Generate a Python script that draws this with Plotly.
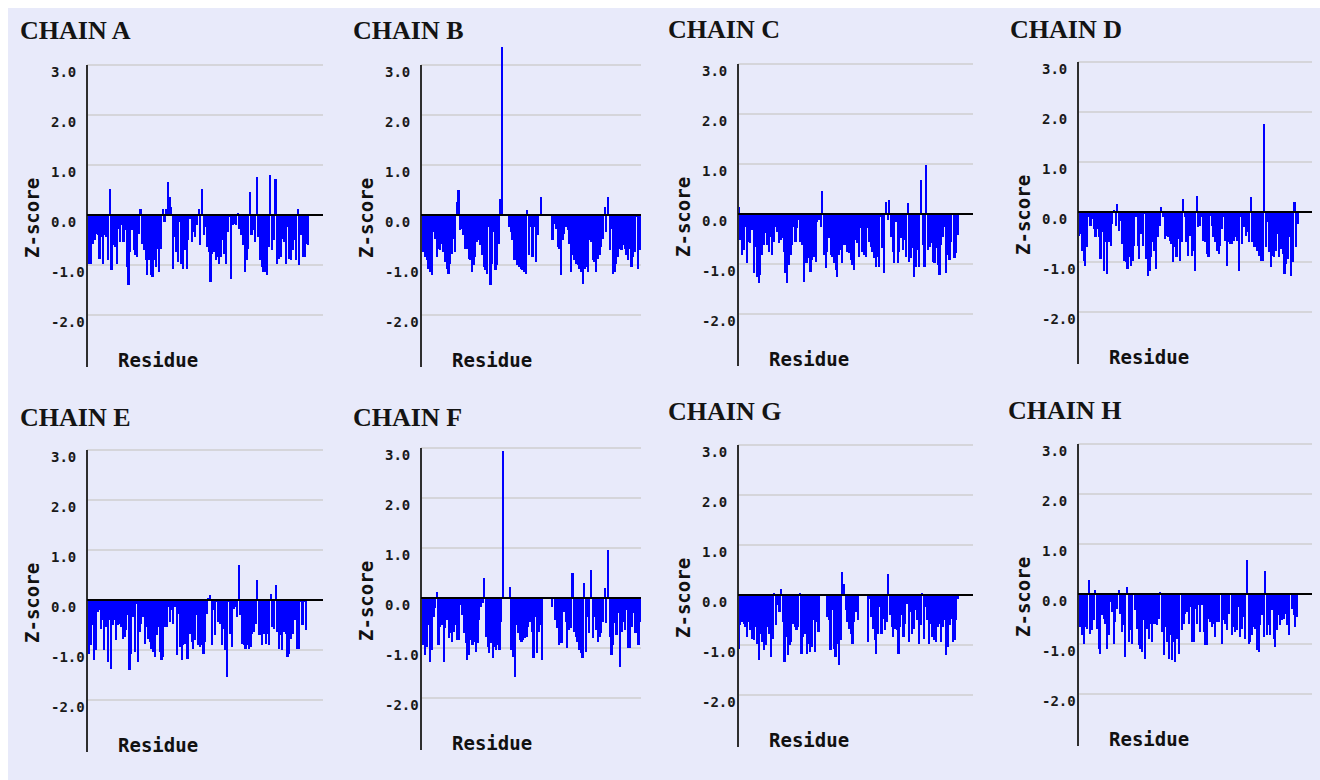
import plotly.graph_objects as go

# The page body keeps its default 8px margin, so the figure starts at (8, 8).
OFF = 8
W, H = 1320 - OFF, 780 - 2 * OFF

# ---------------- data (Z-score per residue) ----------------
chain_a = [-0.37, -0.98, -0.97, -0.57, -0.5, -0.37, -0.4, -0.87, -0.43, -0.97, -0.4, -0.43, -0.9, 0.53,
           -1.1, -0.6, -0.63, -0.97, -0.27, -0.53, -0.2, -0.53, -0.3, -1.03, -1.4, -0.73, -0.3, -0.7,
           -0.8, -0.83, -0.37, 0.13, -0.57, -0.7, -0.9, -1.2, -0.9, -1.2, -1.23, -0.9, -1.03, -0.67,
           -1.13, -0.67, 0.13, -0.13, 0.13, 0.67, 0.37, 0.17, -1.07, -0.43, -0.73, -0.93, -0.13, -0.97,
           -1.07, -0.7, -1.07, -0.5, -0.07, -0.53, -0.33, -0.43, -0.2, 0.13, -0.6, 0.53, -0.4, -0.23,
           -0.63, -0.73, -1.33, -0.77, -0.73, -0.9, -0.83, -0.97, -0.83, -0.5, -0.77, -0.97, -0.33,
           -0.03, -1.27, -0.2, -0.17, -0.2, 0.03, -0.27, -0.4, -0.6, -1.13, -0.9, -0.67, 0.47, -0.4,
           -0.3, -0.53, 0.77, -0.43, -0.9, -1.03, -1.13, -1.13, -1.2, -0.63, 0.8, -0.7, -0.5, 0.73,
           -0.97, -0.87, -0.83, -0.47, -0.53, -0.97, -0.23, -0.87, -0.9, -0.7, -0.5, -0.9, 0.13, -1.0,
           -0.4, -0.83, -0.83, -0.57, -0.6]

chain_b = [-0.13, -0.73, -0.83, -0.9, -1.07, -1.13, -1.2, -0.33, -0.47, -0.83, -0.67, -0.7, -0.57,
           -0.73, -0.93, -1.07, -1.17, -0.97, -0.77, -0.47, -0.73, 0.27, 0.5, -0.3, -0.27, -0.4, -0.67,
           -0.67, -0.87, -0.9, -1.13, -1.0, -0.83, -0.53, -0.5, -0.6, -0.8, -1.03, -1.1, -1.17, -0.23,
           -1.4, -0.97, -0.33, -1.1, -1.0, -0.57, 0.33, 3.36, None, None, None, -0.23, -0.33, -0.5,
           -0.9, -0.9, -1.0, -1.03, -1.07, -1.1, -1.13, -1.17, 0.1, -0.8, -0.23, -0.83, -0.23, -0.93,
           -0.4, None, 0.37, None, None, None, None, None, None, -0.5, -0.17, -0.27, -0.63, -0.67, -1.2,
           -0.5, -0.37, -0.23, -0.3, -0.57, -1.13, -0.8, -0.9, -0.97, -1.0, -1.07, -1.13, -1.37, -1.07,
           -1.03, -1.13, -0.5, -0.53, -0.9, -0.93, -1.13, -0.87, -0.8, -0.63, -0.47, 0.17, -0.33, 0.37,
           -0.7, -0.27, -1.17, -1.13, -0.97, -0.83, -0.67, -0.7, -0.6, -0.67, -0.8, -0.9, -0.67, -1.03,
           -0.83, -0.73, -0.03, -1.07, -0.7]

chain_c = [0.15, -0.51, -0.81, -0.71, -0.25, -0.98, -0.55, -0.58, -0.31, -1.18, -0.65, -1.25, -1.38,
           -1.21, -0.81, -0.61, -0.38, -0.61, -0.75, -0.45, -0.81, -0.55, -0.25, -0.35, -0.58, -0.51,
           -0.48, -0.75, -1.18, -1.38, -1.01, -0.81, -0.61, -0.25, -0.55, -0.28, -0.11, -0.55, -0.61,
           -1.35, -0.98, -0.98, -0.88, -1.15, -0.91, -0.85, -0.95, -0.15, -0.11, -0.25, 0.47, -0.81,
           -1.08, -0.75, -0.48, -0.81, -0.85, -0.98, -1.11, -1.25, -0.81, -0.71, -0.98, -0.61, -0.61,
           -0.75, -0.78, -0.91, -1.01, -1.11, -0.51, -0.58, -0.85, -0.28, -0.75, -0.81, -0.85, -0.28,
           -0.55, -0.65, -0.75, -0.88, -1.05, -0.85, -1.05, -0.05, -0.68, -1.18, 0.25, -0.11, 0.29,
           -0.45, -0.75, -0.98, -0.15, -0.98, -0.75, -0.48, -0.71, -0.51, -0.85, 0.22, -0.95, -0.88,
           -0.68, -1.25, -1.05, -0.71, -1.05, 0.69, -0.61, -1.05, 0.99, -0.71, -0.65, -0.58, -0.95,
           -0.98, -0.68, -1.01, -1.21, -0.61, -0.45, -0.25, -1.18, -0.81, -0.91, -0.55, -0.01, -0.88,
           -0.78, -0.41]

chain_d = [-0.47, -0.43, -0.77, -0.97, -1.07, -0.7, -0.1, -0.27, -0.13, -0.33, -0.5, -0.33, -0.5,
           -0.93, -0.4, -1.17, -0.6, -1.23, -0.6, -0.67, -0.23, 0.03, -0.27, 0.17, -0.37, -0.17, -0.63,
           -0.97, -1.0, -1.13, -0.9, -1.07, -0.97, -0.67, -0.1, -0.67, -0.93, -0.43, -0.67, -0.03,
           -0.93, -1.27, -1.17, -0.9, -0.6, -0.77, -1.13, -0.5, -0.27, 0.1, -0.1, -0.53, -0.47, -0.5,
           -0.57, -0.63, -1.0, -0.7, -0.9, -0.53, -0.97, -0.6, 0.27, -0.1, -0.6, -0.87, -0.47, -0.87,
           -0.77, -1.17, 0.33, -0.3, -0.27, -0.1, -0.57, -0.6, -0.83, -0.9, -0.07, -0.27, -0.5, -0.6,
           -0.77, -0.83, -0.67, -0.33, -0.1, -0.57, -1.07, -0.6, -0.63, -0.63, -0.57, -0.5, -0.57,
           -1.17, -0.1, -0.63, -0.3, -0.47, -0.4, -0.6, 0.3, -0.6, -0.7, -0.7, -0.77, -0.87, -0.97,
           -0.97, 1.77, -0.7, -0.2, -0.8, -1.1, -0.87, -0.9, -0.77, -0.43, -0.9, -0.73, -0.83, -1.23,
           -1.03, -0.93, -0.5, -1.27, -1.0, 0.2, -0.7, -0.23]

chain_e = [-0.63, -1.07, -0.9, -0.5, -1.2, -1.0, -0.23, -0.2, -0.57, -0.4, -1.0, -0.53, -1.23, -0.4,
           -1.37, -0.5, -0.4, -0.8, -0.5, -0.47, -0.53, -0.77, -0.73, -0.6, -0.3, -1.4, -1.07, -0.33,
           -1.03, -0.07, -1.23, -0.63, -0.47, -0.33, -0.87, -0.53, -0.77, -0.83, -0.97, -1.03, -1.13,
           -0.7, -0.53, -1.03, -1.2, -1.13, -0.53, -0.53, -0.13, -0.43, -0.2, -0.47, -0.13, -1.1,
           -0.27, -0.93, -1.2, -0.9, -0.87, -1.17, -1.17, -0.67, -0.83, -0.97, -0.8, -0.3, -0.9,
           -0.93, -0.9, -1.07, -0.83, -0.27, 0.03, 0.11, -0.9, -0.2, -0.7, -0.03, -0.43, -0.47, -0.9,
           -0.57, -1.0, -1.53, -0.03, -0.67, -0.93, -0.17, -0.13, -0.33, 0.7, -0.3, -0.87, -0.9,
           -0.97, -0.9, -0.97, -0.93, -0.67, -0.63, -0.47, 0.4, -0.7, -0.7, -0.9, -0.67, -0.87, -0.67,
           -0.9, 0.13, -0.53, -0.57, 0.3, -0.63, -0.97, -0.7, -1.0, -0.63, -0.67, -1.13, -1.07, -0.77,
           -0.67, -0.4, -0.4, -0.97, -0.97, -0.03, -0.5, -0.03, -0.6]

chain_f = [-0.6, -0.93, -1.13, -0.97, -0.53, -1.27, -1.03, -0.37, -0.2, 0.13, -0.93, -0.57, -0.53,
           -1.27, -0.6, -0.43, -0.8, -0.7, -0.87, -0.67, -0.53, -0.83, -0.83, -0.13, -0.33, -0.7, -0.9,
           -1.23, -1.13, -0.83, -0.93, -0.87, -1.07, -0.9, -0.43, -0.17, -0.1, 0.4, -0.77, -0.97, -1.1,
           -0.9, -1.2, -0.97, -1.03, -0.93, -1.03, -0.47, 2.95, None, None, None, 0.23, -1.03, -1.17,
           -1.57, -0.53, -0.7, -0.83, -0.87, -0.83, -0.8, -0.77, -0.57, -0.47, -0.67, -1.2, -0.37,
           -1.1, -0.67, -0.53, -1.23, None, None, None, None, None, -0.17, None, -0.43, -0.6, -0.93,
           -0.9, -0.9, -0.27, -0.47, -1.0, -0.63, -0.6, 0.5, -0.67, -0.77, -0.87, -1.03, -1.1, -1.2,
           0.3, -1.07, -0.37, -0.7, 0.57, -0.8, -0.37, -0.63, -0.87, -0.77, -0.7, -0.47, 0.2, -0.5,
           0.97, -0.77, -1.13, -0.93, -0.5, -0.73, -0.3, -1.37, -0.67, -0.47, -0.63, -0.23, -1.0,
           -1.0, -0.57, -0.3, -0.7, -0.7, -0.93, -0.47, 0.57]

chain_g = [-1.07, -0.6, -0.53, -0.57, -0.63, -0.83, -0.53, -0.7, -0.87, -0.9, -0.63, -0.97, -1.3,
           -0.77, -0.93, -1.1, -1.0, -0.63, -0.77, -1.23, -0.87, 0.03, -0.6, -0.2, -0.33, 0.13, -0.53,
           -1.33, -0.83, -1.2, -1.0, -0.93, -0.57, -0.63, -0.7, -0.63, 0.03, -1.17, -0.83, -0.77,
           -1.17, -0.97, -1.13, -1.03, -0.5, -1.13, -0.53, -0.73, None, None, None, None, -0.43, -0.5,
           -1.1, -0.3, -1.07, -1.23, -0.97, -1.4, -0.9, 0.47, 0.23, -0.3, -0.53, -0.67, -0.77, -0.97,
           -0.53, -0.33, -0.5, None, None, None, None, None, -0.93, -0.07, -0.43, -0.67, -0.9, -1.17,
           -0.77, -0.23, -0.77, -0.47, -0.7, -0.53, 0.43, -0.4, -0.63, -0.83, -0.67, -0.7, -1.17,
           -0.63, -0.4, -0.83, -0.57, -0.17, -0.93, -0.33, -0.77, -0.67, -0.3, -0.5, -0.97, -0.6, 0.03,
           -0.87, -0.23, -0.5, -0.97, -0.57, -0.83, -0.9, -0.93, -0.63, -0.57, -0.93, -0.63, -0.5,
           -1.2, -1.03, -0.6, -0.47, -0.93, -0.9, -0.5, -0.07]

chain_h = [-0.12, -0.65, -0.82, -0.99, -0.65, -0.69, 0.29, -0.79, -0.72, -0.52, 0.08, -0.69, -1.09,
           -1.19, -0.42, -0.49, -0.59, -1.09, -0.82, -0.15, -0.35, -0.99, -0.55, -0.29, 0.09, -0.39,
           -0.75, -0.62, -1.25, 0.15, -0.95, -0.72, -0.99, -0.02, -0.32, -0.69, -1.02, -1.09, -1.15,
           -0.52, -1.29, -0.69, -0.89, -0.59, -0.95, -0.59, -0.59, -0.62, -0.49, 0.05, -0.75, -1.22,
           -0.65, -0.95, -1.29, -0.82, -1.32, -0.95, -1.35, -0.89, -1.19, -0.02, -0.72, -0.59, -0.39,
           -0.35, -0.59, -0.25, -0.95, -0.95, -0.29, -0.59, -0.22, -0.75, -0.22, -0.75, -1.02, -1.02,
           -0.49, -0.55, -0.65, -0.59, -0.85, -0.55, -0.55, -0.02, -0.99, -0.52, -0.59, -0.72, -0.39,
           -0.02, -0.82, -0.65, -0.75, -0.72, -0.25, -0.85, -0.69, -0.45, -0.89, 0.69, -0.99, -0.95,
           -0.82, -0.65, -0.69, -1.12, -1.15, -0.62, -0.42, -0.85, 0.46, -0.82, -0.62, -0.82, -0.32,
           -0.89, -1.05, -0.72, -0.42, -0.62, -0.52, -0.49, -0.39, -0.62, -0.82, -0.02, -0.29, -0.42,
           -0.65, -0.45]

chain_names = ["CHAIN A", "CHAIN B", "CHAIN C", "CHAIN D",
               "CHAIN E", "CHAIN F", "CHAIN G", "CHAIN H"]
chain_values = [chain_a, chain_b, chain_c, chain_d, chain_e, chain_f, chain_g, chain_h]
tick_values = [3, 2, 1, 0, -1, -2]
tick_labels = ["3.0", "2.0", "1.0", "0.0", "-1.0", "-2.0"]
y_title = "Z-score"
x_title = "Residue"

# ---------------- layout geometry (page pixels) ----------------
axis_x = [87, 421, 738, 1078, 87, 421, 738, 1078]
grid_r = [323, 641, 973, 1312, 323, 641, 973, 1312]
bar_r = [309, 641, 959, 1299, 307, 643, 959, 1298]
zero_y = [215, 215, 214, 212, 600, 598, 595, 594]
title_pos = [(18, 31), (351, 31), (666, 30), (1008, 29),
             (18, 417), (351, 417), (666, 412), (1006, 410)]
UNIT = 50.0
Y_MIN, Y_TOP_AXIS, Y_MAX = -3.04, 3.0, 3.4

BG = "#E8EAFA"
BAR = "#0000FF"
GRID = "#D5D5DA"


def fx(px):
    return (px - OFF) / W


def fy(py):
    return 1 - (py - OFF) / H


fig = go.Figure()
layout = dict(
    width=W, height=H,
    margin=dict(l=0, r=0, t=0, b=0),
    paper_bgcolor=BG,
    plot_bgcolor="rgba(0,0,0,0)",
    showlegend=False,
    bargap=0.0,
)
annotations = []
shapes = []

tick_font = dict(family="DejaVu Sans Mono", size=14, color="#1a1a1a", weight="bold")
label_font = dict(family="DejaVu Sans Mono", size=19, color="#111111", weight="bold")
title_font = dict(family="Liberation Serif", size=26, color="#141414", weight="bold")

for i, (name, vals) in enumerate(zip(chain_names, chain_values)):
    k = i + 1
    xa = "x" if k == 1 else f"x{k}"
    ya = "y" if k == 1 else f"y{k}"
    n = len(vals)
    span = n * (grid_r[i] - axis_x[i]) / (bar_r[i] - axis_x[i])
    top_px = zero_y[i] - Y_MAX * UNIT
    bot_px = zero_y[i] - Y_MIN * UNIT

    fig.add_trace(go.Bar(
        x=list(range(n)), y=vals, xaxis=xa, yaxis=ya,
        marker=dict(color=BAR, line=dict(width=0)),
        hoverinfo="skip",
    ))

    layout["xaxis" if k == 1 else f"xaxis{k}"] = dict(
        domain=[fx(axis_x[i]), fx(grid_r[i])], range=[-0.5, -0.5 + span],
        showgrid=False, zeroline=False, showticklabels=False, showline=False,
        ticks="", anchor=ya, fixedrange=True,
    )
    layout["yaxis" if k == 1 else f"yaxis{k}"] = dict(
        domain=[fy(bot_px), fy(top_px)], range=[Y_MIN, Y_MAX],
        tickvals=tick_values, showticklabels=False, ticks="",
        showgrid=True, gridcolor=GRID, gridwidth=1.5,
        zeroline=False, showline=False, anchor=xa, fixedrange=True,
    )

    # vertical axis line (from the bottom of the range up to 3.0)
    shapes.append(dict(type="line", xref=f"{xa} domain", yref=ya, x0=0, x1=0,
                       y0=Y_MIN, y1=Y_TOP_AXIS,
                       line=dict(color="#2e2e2e", width=2), layer="above"))
    # zero reference line drawn above the bars
    shapes.append(dict(type="line", xref=f"{xa} domain", yref=ya, x0=0, x1=1, y0=0, y1=0,
                       line=dict(color="black", width=2), layer="above"))

    # left-aligned tick labels
    for tv, tl in zip(tick_values, tick_labels):
        annotations.append(dict(
            text=tl, xref="paper", yref=ya, x=fx(axis_x[i] - 38), y=tv, yshift=-7,
            xanchor="left", yanchor="middle", showarrow=False, font=tick_font,
        ))

    annotations.append(dict(
        text=y_title, xref="paper", yref="paper", x=fx(axis_x[i] - 55),
        y=fy(zero_y[i] + 3), textangle=-90, xanchor="center", yanchor="middle",
        showarrow=False, font=label_font,
    ))
    annotations.append(dict(
        text=x_title, xref="paper", yref="paper", x=fx(axis_x[i] + 71),
        y=fy(zero_y[i] + 145), xanchor="center", yanchor="middle",
        showarrow=False, font=label_font,
    ))
    tx, ty = title_pos[i]
    annotations.append(dict(
        text=name, xref="paper", yref="paper", x=fx(tx), y=fy(ty),
        xanchor="left", yanchor="middle", showarrow=False, font=title_font,
    ))

layout["annotations"] = annotations
layout["shapes"] = shapes
fig.update_layout(**layout)

# page background: white 8px strip at top and left (body margin), lavender elsewhere
page_bg = (
    "var r=document.documentElement;"
    "r.style.background='linear-gradient(#fff,#fff) 0 0/100% 8px no-repeat,"
    "linear-gradient(#fff,#fff) 0 0/8px 100% no-repeat," + BG + "';"
    "document.body.style.background='transparent';"
)
fig.write_html("out.html", post_script=page_bg)
